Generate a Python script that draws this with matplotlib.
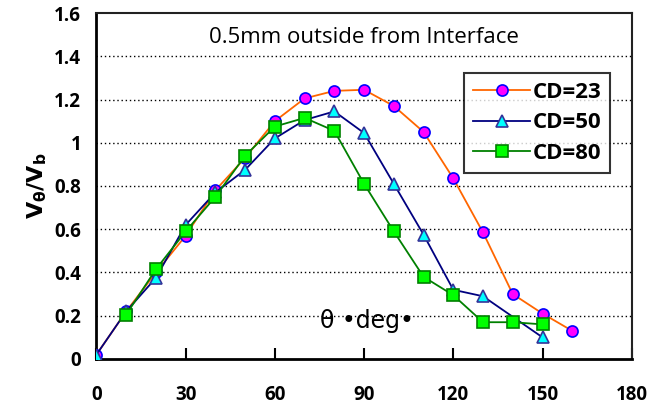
import numpy as np
import matplotlib.pyplot as plt

# Vtheta/Vb vs angle
x_cd23 = [0, 10, 20, 30, 40, 50, 60, 70, 80, 90, 100, 110, 120, 130, 140, 150, 160]
y_cd23 = [0.02, 0.22, 0.40, 0.57, 0.78, 0.93, 1.10, 1.205, 1.24, 1.245, 1.17, 1.05, 0.835, 0.585, 0.30, 0.21, 0.13]

x_cd50 = [0, 10, 20, 30, 40, 50, 60, 70, 80, 90, 100, 110, 120, 130, 150]
y_cd50 = [0.02, 0.22, 0.375, 0.62, 0.77, 0.875, 1.02, 1.105, 1.145, 1.045, 0.81, 0.575, 0.32, 0.29, 0.10]

x_cd80 = [10, 20, 30, 40, 50, 60, 70, 80, 90, 100, 110, 120, 130, 140, 150]
y_cd80 = [0.205, 0.415, 0.59, 0.75, 0.94, 1.075, 1.115, 1.055, 0.81, 0.59, 0.38, 0.295, 0.17, 0.17, 0.16]

xticks = [0, 30, 60, 90, 120, 150, 180]
yticks = [0, 0.2, 0.4, 0.6, 0.8, 1, 1.2, 1.4, 1.6]
ytick_labels = ['0', '0.2', '0.4', '0.6', '0.8', '1', '1.2', '1.4', '1.6']

plt.rcParams['font.family'] = ['Open Sans', 'DejaVu Sans']

fig = plt.figure(figsize=(6.56, 4.07), dpi=100)
ax = fig.add_axes([0.147, 0.118, 0.816, 0.850])

ax.plot(x_cd23, y_cd23, '-o', color='#FF6600', lw=1.3, ms=8,
        mfc='#FF00FF', mec='#0000FF', mew=1.2, label='CD=23', zorder=3)
ax.plot(x_cd50, y_cd50, '-^', color='#000080', lw=1.3, ms=9,
        mfc='#00FFFF', mec='#333399', mew=1.2, label='CD=50', zorder=4)
ax.plot(x_cd80, y_cd80, '-s', color='#008000', lw=1.3, ms=9,
        mfc='#00FF00', mec='#008000', mew=1.2, label='CD=80', zorder=5)

# dotted gridlines
for yv in yticks[1:-1]:
    ax.axhline(yv, color='black', lw=1.0, ls=(0, (1, 2)), zorder=1)

ax.set_xlim(0, 180)
ax.set_ylim(0, 1.6)
ax.set_xticks(xticks)
ax.set_yticks(yticks)
ax.set_yticklabels(ytick_labels)
ax.tick_params(axis='x', direction='in', length=8, width=1.5, pad=19, labelsize=13.5)
ax.tick_params(axis='y', direction='in', length=0, pad=11, labelsize=13.5)
for lab in ax.get_xticklabels() + ax.get_yticklabels():
    lab.set_fontweight('bold')

for side in ['left', 'bottom']:
    ax.spines[side].set_linewidth(2)
for side in ['top', 'right']:
    ax.spines[side].set_linewidth(1.5)
    ax.spines[side].set_color('#222222')

ax.set_ylabel(r'$\mathbf{V_{\theta}/V_b}$', fontsize=16, labelpad=4)

ax.text(0.5, 0.93, '0.5mm outside from Interface', transform=ax.transAxes,
        ha='center', va='center', fontsize=16)
ax.text(91, 0.175, 'θ •deg•', ha='center', va='center', fontsize=17,
        family=['DejaVu Sans'])

leg = ax.legend(loc='upper right', bbox_to_anchor=(0.96, 0.826), fontsize=16,
                frameon=True, fancybox=False, edgecolor='black',
                handlelength=2.6, borderpad=0.4, labelspacing=0.42,
                handletextpad=0.1, borderaxespad=0)
leg.get_frame().set_linewidth(1.5)
for t in leg.get_texts():
    t.set_fontweight('bold')

plt.savefig('out.png', dpi=100)
